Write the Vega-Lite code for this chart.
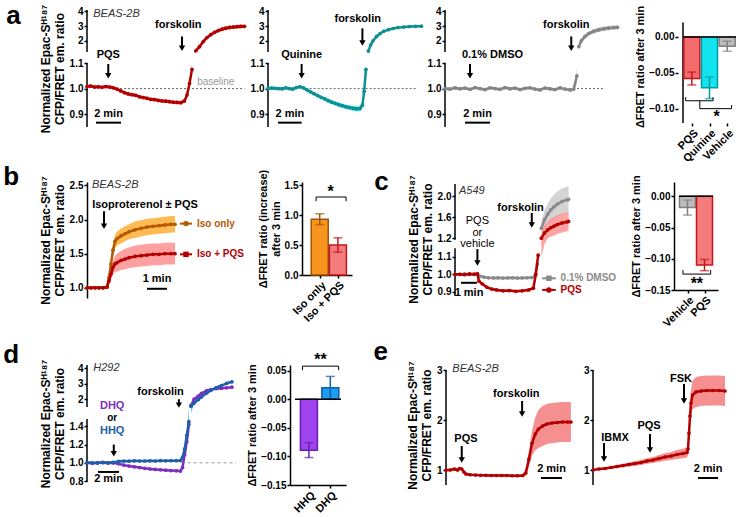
{
"$schema": "https://vega.github.io/schema/vega-lite/v6.json",
"background": "white",
"padding": {"left": 3, "top": 3, "right": 0, "bottom": 0},
"config": {
  "font": "Liberation Sans",
  "view": {"stroke": null},
  "axis": {"labelFont": "Liberation Sans", "labelFontSize": 10, "labelFontWeight": "bold", "labelColor": "#000", "domainColor": "#000", "domainWidth": 1.5, "tickColor": "#000", "tickWidth": 1.5, "tickSize": 3, "labelPadding": 1, "grid": false, "titleFont": "Liberation Sans", "titleFontSize": 12, "titleFontWeight": "bold", "titleColor": "#000", "titlePadding": 3, "labelOverlap": false, "labelFlush": false, "labelBound": false},
  "text": {"font": "Liberation Sans"}
},
"datasets": {
  "a1": [
    {"t":0,"v":1.008,"e":0.007,"s":"l"},{"t":0.3,"v":1.010,"e":0.007,"s":"l"},{"t":0.6,"v":1.006,"e":0.007,"s":"l"},{"t":0.9,"v":1.007,"e":0.007,"s":"l"},{"t":1.2,"v":1.005,"e":0.007,"s":"l"},{"t":1.5,"v":1.008,"e":0.007,"s":"l"},{"t":1.8,"v":1.006,"e":0.007,"s":"l"},{"t":2.1,"v":1.003,"e":0.007,"s":"l"},{"t":2.4,"v":0.998,"e":0.007,"s":"l"},{"t":2.7,"v":0.991,"e":0.007,"s":"l"},{"t":3.0,"v":0.984,"e":0.007,"s":"l"},{"t":3.3,"v":0.979,"e":0.007,"s":"l"},{"t":3.6,"v":0.976,"e":0.007,"s":"l"},{"t":3.9,"v":0.974,"e":0.007,"s":"l"},{"t":4.2,"v":0.968,"e":0.007,"s":"l"},{"t":4.5,"v":0.965,"e":0.007,"s":"l"},{"t":4.8,"v":0.962,"e":0.007,"s":"l"},{"t":5.1,"v":0.958,"e":0.007,"s":"l"},{"t":5.4,"v":0.957,"e":0.007,"s":"l"},{"t":5.7,"v":0.954,"e":0.007,"s":"l"},{"t":6.0,"v":0.952,"e":0.007,"s":"l"},{"t":6.3,"v":0.951,"e":0.007,"s":"l"},{"t":6.6,"v":0.949,"e":0.007,"s":"l"},{"t":6.9,"v":0.947,"e":0.007,"s":"l"},{"t":7.2,"v":0.946,"e":0.007,"s":"l"},{"t":7.5,"v":0.945,"e":0.008,"s":"l"},{"t":7.8,"v":0.952,"e":0.008,"s":"l"},{"t":8.0,"v":0.975,"e":0.01,"s":"l"},{"t":8.2,"v":1.02,"e":0.015,"s":"l"},{"t":8.4,"v":1.075,"e":0.02,"s":"l"},
    {"t":8.7,"v":1.32,"e":0.08,"s":"u"},{"t":9.0,"v":1.6,"e":0.1,"s":"u"},{"t":9.3,"v":1.95,"e":0.12,"s":"u"},{"t":9.6,"v":2.22,"e":0.13,"s":"u"},{"t":9.9,"v":2.42,"e":0.13,"s":"u"},{"t":10.2,"v":2.58,"e":0.13,"s":"u"},{"t":10.5,"v":2.7,"e":0.13,"s":"u"},{"t":10.8,"v":2.79,"e":0.13,"s":"u"},{"t":11.1,"v":2.86,"e":0.13,"s":"u"},{"t":11.4,"v":2.91,"e":0.13,"s":"u"},{"t":11.7,"v":2.94,"e":0.13,"s":"u"},{"t":12.0,"v":2.96,"e":0.13,"s":"u"},{"t":12.3,"v":2.98,"e":0.13,"s":"u"},{"t":12.6,"v":2.99,"e":0.13,"s":"u"}
  ],
  "a2": [
    {"t":0,"v":1.0,"e":0.006,"s":"l"},{"t":0.3,"v":1.002,"e":0.006,"s":"l"},{"t":0.6,"v":1.001,"e":0.006,"s":"l"},{"t":0.9,"v":1.0,"e":0.006,"s":"l"},{"t":1.2,"v":0.999,"e":0.006,"s":"l"},{"t":1.5,"v":1.003,"e":0.006,"s":"l"},{"t":1.8,"v":1.0,"e":0.006,"s":"l"},{"t":2.1,"v":0.998,"e":0.006,"s":"l"},{"t":2.4,"v":1.004,"e":0.006,"s":"l"},{"t":2.7,"v":1.007,"e":0.006,"s":"l"},{"t":3.0,"v":1.003,"e":0.006,"s":"l"},{"t":3.3,"v":0.995,"e":0.007,"s":"l"},{"t":3.6,"v":0.987,"e":0.007,"s":"l"},{"t":3.9,"v":0.98,"e":0.007,"s":"l"},{"t":4.2,"v":0.973,"e":0.007,"s":"l"},{"t":4.5,"v":0.966,"e":0.007,"s":"l"},{"t":4.8,"v":0.96,"e":0.008,"s":"l"},{"t":5.1,"v":0.953,"e":0.008,"s":"l"},{"t":5.4,"v":0.947,"e":0.008,"s":"l"},{"t":5.7,"v":0.942,"e":0.008,"s":"l"},{"t":6.0,"v":0.937,"e":0.009,"s":"l"},{"t":6.3,"v":0.933,"e":0.009,"s":"l"},{"t":6.6,"v":0.929,"e":0.009,"s":"l"},{"t":6.9,"v":0.926,"e":0.009,"s":"l"},{"t":7.2,"v":0.923,"e":0.01,"s":"l"},{"t":7.5,"v":0.921,"e":0.01,"s":"l"},{"t":7.8,"v":0.922,"e":0.01,"s":"l"},{"t":8.0,"v":0.935,"e":0.01,"s":"l"},{"t":8.15,"v":0.99,"e":0.015,"s":"l"},{"t":8.3,"v":1.075,"e":0.02,"s":"l"},
    {"t":8.5,"v":1.3,"e":0.05,"s":"u"},{"t":8.7,"v":1.72,"e":0.06,"s":"u"},{"t":8.9,"v":2.0,"e":0.06,"s":"u"},{"t":9.2,"v":2.3,"e":0.06,"s":"u"},{"t":9.5,"v":2.5,"e":0.06,"s":"u"},{"t":9.8,"v":2.65,"e":0.06,"s":"u"},{"t":10.2,"v":2.76,"e":0.06,"s":"u"},{"t":10.6,"v":2.84,"e":0.06,"s":"u"},{"t":11.0,"v":2.9,"e":0.06,"s":"u"},{"t":11.5,"v":2.94,"e":0.06,"s":"u"},{"t":12.0,"v":2.97,"e":0.06,"s":"u"},{"t":12.5,"v":2.99,"e":0.06,"s":"u"},{"t":13.0,"v":3.0,"e":0.06,"s":"u"}
  ],
  "a3": [
    {"t":0,"v":1.0,"e":0.006,"s":"l"},{"t":0.4,"v":0.998,"e":0.006,"s":"l"},{"t":0.8,"v":1.003,"e":0.006,"s":"l"},{"t":1.2,"v":0.999,"e":0.006,"s":"l"},{"t":1.6,"v":1.002,"e":0.006,"s":"l"},{"t":2.0,"v":0.997,"e":0.006,"s":"l"},{"t":2.4,"v":1.004,"e":0.006,"s":"l"},{"t":2.8,"v":1.0,"e":0.006,"s":"l"},{"t":3.2,"v":0.996,"e":0.006,"s":"l"},{"t":3.6,"v":1.003,"e":0.006,"s":"l"},{"t":4.0,"v":1.0,"e":0.006,"s":"l"},{"t":4.4,"v":0.997,"e":0.006,"s":"l"},{"t":4.8,"v":1.004,"e":0.006,"s":"l"},{"t":5.2,"v":0.999,"e":0.006,"s":"l"},{"t":5.6,"v":1.002,"e":0.006,"s":"l"},{"t":6.0,"v":0.996,"e":0.006,"s":"l"},{"t":6.4,"v":1.001,"e":0.006,"s":"l"},{"t":6.8,"v":1.003,"e":0.006,"s":"l"},{"t":7.2,"v":0.998,"e":0.006,"s":"l"},{"t":7.6,"v":0.995,"e":0.006,"s":"l"},{"t":8.0,"v":1.002,"e":0.006,"s":"l"},{"t":8.4,"v":0.999,"e":0.006,"s":"l"},{"t":8.8,"v":0.996,"e":0.006,"s":"l"},{"t":9.2,"v":1.003,"e":0.006,"s":"l"},{"t":9.6,"v":0.998,"e":0.006,"s":"l"},{"t":10.0,"v":0.995,"e":0.006,"s":"l"},{"t":10.3,"v":0.998,"e":0.006,"s":"l"},{"t":10.55,"v":1.05,"e":0.03,"s":"l"},
    {"t":10.7,"v":1.6,"e":0.15,"s":"u"},{"t":10.9,"v":2.0,"e":0.15,"s":"u"},{"t":11.2,"v":2.3,"e":0.15,"s":"u"},{"t":11.5,"v":2.5,"e":0.15,"s":"u"},{"t":11.9,"v":2.65,"e":0.15,"s":"u"},{"t":12.3,"v":2.75,"e":0.15,"s":"u"},{"t":12.7,"v":2.82,"e":0.15,"s":"u"},{"t":13.1,"v":2.87,"e":0.15,"s":"u"},{"t":13.5,"v":2.9,"e":0.15,"s":"u"},{"t":13.8,"v":2.92,"e":0.15,"s":"u"}
  ],
  "b_iso": [
    {"t":0,"v":1.0,"e":0.005},{"t":0.2,"v":1.0,"e":0.005},{"t":0.4,"v":1.0,"e":0.005},{"t":0.6,"v":1.0,"e":0.005},{"t":0.8,"v":1.0,"e":0.005},{"t":1.0,"v":1.01,"e":0.01},{"t":1.1,"v":1.15,"e":0.04},{"t":1.2,"v":1.35,"e":0.06},{"t":1.3,"v":1.55,"e":0.08},{"t":1.4,"v":1.68,"e":0.1},{"t":1.5,"v":1.72,"e":0.1},{"t":1.7,"v":1.76,"e":0.11},{"t":1.9,"v":1.79,"e":0.11},{"t":2.1,"v":1.82,"e":0.11},{"t":2.4,"v":1.85,"e":0.12},{"t":2.7,"v":1.87,"e":0.12},{"t":3.0,"v":1.89,"e":0.12},{"t":3.3,"v":1.9,"e":0.12},{"t":3.6,"v":1.91,"e":0.12},{"t":3.9,"v":1.92,"e":0.12},{"t":4.2,"v":1.93,"e":0.12},{"t":4.4,"v":1.93,"e":0.12}
  ],
  "b_pqs": [
    {"t":0,"v":1.0,"e":0.005},{"t":0.2,"v":1.0,"e":0.005},{"t":0.4,"v":1.0,"e":0.005},{"t":0.6,"v":1.0,"e":0.005},{"t":0.8,"v":1.0,"e":0.005},{"t":1.0,"v":1.01,"e":0.01},{"t":1.1,"v":1.1,"e":0.04},{"t":1.2,"v":1.2,"e":0.07},{"t":1.3,"v":1.3,"e":0.1},{"t":1.4,"v":1.35,"e":0.12},{"t":1.5,"v":1.37,"e":0.13},{"t":1.7,"v":1.4,"e":0.14},{"t":1.9,"v":1.42,"e":0.15},{"t":2.1,"v":1.44,"e":0.15},{"t":2.4,"v":1.46,"e":0.16},{"t":2.7,"v":1.47,"e":0.16},{"t":3.0,"v":1.48,"e":0.16},{"t":3.3,"v":1.49,"e":0.16},{"t":3.6,"v":1.49,"e":0.16},{"t":3.9,"v":1.5,"e":0.16},{"t":4.2,"v":1.5,"e":0.16},{"t":4.4,"v":1.5,"e":0.16}
  ],
  "c_dmso": [
    {"t":0,"v":1.0,"e":0.006,"s":"l"},{"t":0.3,"v":1.0,"e":0.006,"s":"l"},{"t":0.6,"v":1.002,"e":0.006,"s":"l"},{"t":0.9,"v":0.999,"e":0.006,"s":"l"},{"t":1.2,"v":1.001,"e":0.006,"s":"l"},{"t":1.4,"v":1.0,"e":0.006,"s":"l"},{"t":1.55,"v":0.99,"e":0.006,"s":"l"},{"t":1.8,"v":0.984,"e":0.006,"s":"l"},{"t":2.1,"v":0.98,"e":0.006,"s":"l"},{"t":2.4,"v":0.979,"e":0.006,"s":"l"},{"t":2.7,"v":0.98,"e":0.006,"s":"l"},{"t":3.0,"v":0.978,"e":0.006,"s":"l"},{"t":3.3,"v":0.979,"e":0.006,"s":"l"},{"t":3.6,"v":0.98,"e":0.006,"s":"l"},{"t":3.9,"v":0.978,"e":0.006,"s":"l"},{"t":4.2,"v":0.979,"e":0.006,"s":"l"},{"t":4.5,"v":0.98,"e":0.006,"s":"l"},{"t":4.8,"v":0.981,"e":0.006,"s":"l"},{"t":5.0,"v":0.99,"e":0.008,"s":"l"},{"t":5.15,"v":1.06,"e":0.03,"s":"l"},
    {"t":5.4,"v":1.39,"e":0.15,"s":"u"},{"t":5.6,"v":1.55,"e":0.18,"s":"u"},{"t":5.8,"v":1.66,"e":0.2,"s":"u"},{"t":6.0,"v":1.74,"e":0.22,"s":"u"},{"t":6.2,"v":1.8,"e":0.23,"s":"u"},{"t":6.4,"v":1.85,"e":0.24,"s":"u"},{"t":6.7,"v":1.9,"e":0.25,"s":"u"},{"t":7.0,"v":1.93,"e":0.25,"s":"u"},{"t":7.1,"v":1.94,"e":0.25,"s":"u"}
  ],
  "c_pqs": [
    {"t":0,"v":1.0,"e":0.008,"s":"l"},{"t":0.3,"v":1.0,"e":0.008,"s":"l"},{"t":0.6,"v":0.998,"e":0.008,"s":"l"},{"t":0.9,"v":1.002,"e":0.008,"s":"l"},{"t":1.2,"v":1.0,"e":0.008,"s":"l"},{"t":1.4,"v":1.003,"e":0.008,"s":"l"},{"t":1.5,"v":0.96,"e":0.008,"s":"l"},{"t":1.7,"v":0.945,"e":0.008,"s":"l"},{"t":2.0,"v":0.925,"e":0.008,"s":"l"},{"t":2.3,"v":0.915,"e":0.008,"s":"l"},{"t":2.6,"v":0.91,"e":0.008,"s":"l"},{"t":3.0,"v":0.905,"e":0.008,"s":"l"},{"t":3.4,"v":0.906,"e":0.008,"s":"l"},{"t":3.8,"v":0.902,"e":0.008,"s":"l"},{"t":4.2,"v":0.905,"e":0.008,"s":"l"},{"t":4.6,"v":0.91,"e":0.008,"s":"l"},{"t":4.9,"v":0.92,"e":0.01,"s":"l"},{"t":5.05,"v":1.0,"e":0.02,"s":"l"},{"t":5.2,"v":1.11,"e":0.03,"s":"l"},
    {"t":5.4,"v":1.2,"e":0.1,"s":"u"},{"t":5.6,"v":1.3,"e":0.14,"s":"u"},{"t":5.8,"v":1.36,"e":0.16,"s":"u"},{"t":6.0,"v":1.4,"e":0.17,"s":"u"},{"t":6.2,"v":1.43,"e":0.18,"s":"u"},{"t":6.4,"v":1.46,"e":0.18,"s":"u"},{"t":6.7,"v":1.49,"e":0.18,"s":"u"},{"t":7.0,"v":1.51,"e":0.18,"s":"u"},{"t":7.1,"v":1.52,"e":0.18,"s":"u"}
  ],
  "d_dhq": [
    {"t":0,"v":1.0,"e":0.008,"s":"l"},{"t":0.5,"v":0.995,"e":0.008,"s":"l"},{"t":1.0,"v":1.0,"e":0.008,"s":"l"},{"t":1.5,"v":1.002,"e":0.008,"s":"l"},{"t":2.0,"v":0.998,"e":0.008,"s":"l"},{"t":2.5,"v":1.0,"e":0.008,"s":"l"},{"t":3.0,"v":0.99,"e":0.008,"s":"l"},{"t":3.5,"v":0.975,"e":0.008,"s":"l"},{"t":4.0,"v":0.965,"e":0.008,"s":"l"},{"t":4.5,"v":0.956,"e":0.008,"s":"l"},{"t":5.0,"v":0.948,"e":0.008,"s":"l"},{"t":5.5,"v":0.94,"e":0.008,"s":"l"},{"t":6.0,"v":0.933,"e":0.008,"s":"l"},{"t":6.5,"v":0.928,"e":0.008,"s":"l"},{"t":7.0,"v":0.924,"e":0.008,"s":"l"},{"t":7.5,"v":0.92,"e":0.008,"s":"l"},{"t":8.0,"v":0.915,"e":0.008,"s":"l"},{"t":8.5,"v":0.912,"e":0.008,"s":"l"},{"t":8.9,"v":0.91,"e":0.008,"s":"l"},{"t":9.1,"v":0.95,"e":0.02,"s":"l"},{"t":9.3,"v":1.09,"e":0.03,"s":"l"},{"t":9.5,"v":1.23,"e":0.04,"s":"l"},{"t":9.7,"v":1.42,"e":0.05,"s":"l"},
    {"t":9.9,"v":1.6,"e":0.06,"s":"u"},{"t":10.2,"v":2.0,"e":0.06,"s":"u"},{"t":10.6,"v":2.2,"e":0.06,"s":"u"},{"t":10.9,"v":2.38,"e":0.06,"s":"u"},{"t":11.4,"v":2.55,"e":0.06,"s":"u"},{"t":11.8,"v":2.62,"e":0.06,"s":"u"},{"t":12.3,"v":2.68,"e":0.06,"s":"u"},{"t":12.8,"v":2.7,"e":0.06,"s":"u"},{"t":13.3,"v":2.73,"e":0.06,"s":"u"},{"t":13.8,"v":2.77,"e":0.06,"s":"u"}
  ],
  "d_hhq": [
    {"t":0,"v":1.0,"e":0.008,"s":"l"},{"t":0.5,"v":1.0,"e":0.008,"s":"l"},{"t":1.0,"v":0.998,"e":0.008,"s":"l"},{"t":1.5,"v":1.004,"e":0.008,"s":"l"},{"t":2.0,"v":1.0,"e":0.008,"s":"l"},{"t":2.5,"v":1.005,"e":0.008,"s":"l"},{"t":3.0,"v":1.015,"e":0.008,"s":"l"},{"t":3.5,"v":1.02,"e":0.008,"s":"l"},{"t":4.0,"v":1.018,"e":0.008,"s":"l"},{"t":4.5,"v":1.022,"e":0.008,"s":"l"},{"t":5.0,"v":1.02,"e":0.008,"s":"l"},{"t":5.5,"v":1.02,"e":0.008,"s":"l"},{"t":6.0,"v":1.022,"e":0.008,"s":"l"},{"t":6.5,"v":1.02,"e":0.008,"s":"l"},{"t":7.0,"v":1.024,"e":0.008,"s":"l"},{"t":7.5,"v":1.022,"e":0.008,"s":"l"},{"t":8.0,"v":1.024,"e":0.008,"s":"l"},{"t":8.5,"v":1.023,"e":0.008,"s":"l"},{"t":8.9,"v":1.025,"e":0.008,"s":"l"},{"t":9.1,"v":1.06,"e":0.02,"s":"l"},{"t":9.3,"v":1.15,"e":0.03,"s":"l"},{"t":9.5,"v":1.3,"e":0.04,"s":"l"},{"t":9.7,"v":1.45,"e":0.05,"s":"l"},
    {"t":9.9,"v":1.55,"e":0.06,"s":"u"},{"t":10.2,"v":1.75,"e":0.06,"s":"u"},{"t":10.6,"v":1.98,"e":0.06,"s":"u"},{"t":10.9,"v":2.15,"e":0.06,"s":"u"},{"t":11.4,"v":2.4,"e":0.06,"s":"u"},{"t":11.8,"v":2.57,"e":0.06,"s":"u"},{"t":12.3,"v":2.75,"e":0.06,"s":"u"},{"t":12.8,"v":2.88,"e":0.06,"s":"u"},{"t":13.3,"v":3.02,"e":0.06,"s":"u"},{"t":13.8,"v":3.12,"e":0.06,"s":"u"}
  ],
  "e1": [
    {"t":0,"v":1.0,"e":0.02},{"t":0.4,"v":1.0,"e":0.02},{"t":0.8,"v":1.02,"e":0.02},{"t":1.1,"v":1.0,"e":0.02},{"t":1.3,"v":1.03,"e":0.02},{"t":1.5,"v":1.02,"e":0.02},{"t":1.7,"v":0.96,"e":0.02},{"t":1.9,"v":0.92,"e":0.02},{"t":2.3,"v":0.905,"e":0.02},{"t":2.8,"v":0.9,"e":0.02},{"t":3.3,"v":0.895,"e":0.02},{"t":3.8,"v":0.895,"e":0.02},{"t":4.3,"v":0.89,"e":0.02},{"t":4.8,"v":0.89,"e":0.02},{"t":5.3,"v":0.89,"e":0.02},{"t":5.8,"v":0.89,"e":0.02},{"t":6.3,"v":0.885,"e":0.02},{"t":6.8,"v":0.885,"e":0.02},{"t":7.3,"v":0.89,"e":0.03},{"t":7.6,"v":0.94,"e":0.06},{"t":7.9,"v":1.22,"e":0.15},{"t":8.2,"v":1.54,"e":0.25},{"t":8.5,"v":1.72,"e":0.33},{"t":8.8,"v":1.82,"e":0.38},{"t":9.2,"v":1.88,"e":0.4},{"t":9.6,"v":1.92,"e":0.4},{"t":10.1,"v":1.94,"e":0.4},{"t":10.6,"v":1.95,"e":0.4},{"t":11.1,"v":1.96,"e":0.4},{"t":11.6,"v":1.96,"e":0.4},{"t":11.9,"v":1.96,"e":0.4}
  ],
  "e2": [
    {"t":0,"v":1.0,"e":0.01},{"t":0.6,"v":1.02,"e":0.015},{"t":1.2,"v":1.03,"e":0.02},{"t":1.8,"v":1.05,"e":0.025},{"t":2.4,"v":1.07,"e":0.03},{"t":3.0,"v":1.09,"e":0.035},{"t":3.6,"v":1.11,"e":0.04},{"t":4.2,"v":1.13,"e":0.045},{"t":4.8,"v":1.15,"e":0.05},{"t":5.4,"v":1.18,"e":0.055},{"t":6.0,"v":1.2,"e":0.06},{"t":6.6,"v":1.23,"e":0.07},{"t":7.2,"v":1.26,"e":0.075},{"t":7.8,"v":1.28,"e":0.08},{"t":8.4,"v":1.31,"e":0.09},{"t":9.0,"v":1.33,"e":0.095},{"t":9.4,"v":1.35,"e":0.1},{"t":9.5,"v":1.42,"e":0.12},{"t":9.6,"v":1.74,"e":0.18},{"t":9.7,"v":2.08,"e":0.24},{"t":9.8,"v":2.34,"e":0.27},{"t":9.95,"v":2.5,"e":0.29},{"t":10.3,"v":2.56,"e":0.3},{"t":10.8,"v":2.58,"e":0.3},{"t":11.4,"v":2.59,"e":0.3},{"t":12.0,"v":2.59,"e":0.3},{"t":12.6,"v":2.59,"e":0.3},{"t":13.2,"v":2.58,"e":0.3}
  ]
},
"spacing": 0,
"resolve": {"scale": {"fill": "independent", "stroke": "independent", "color": "independent"}},
"vconcat": [
{
  "title": {"text": "a", "orient": "left", "anchor": "end", "angle": 0, "align": "right", "baseline": "top", "fontSize": 26, "fontWeight": "bold", "font": "Liberation Sans", "color": "black", "offset": 4, "dy": -1},
  "spacing": 0,
  "resolve": {"scale": {"fill": "independent", "stroke": "independent", "color": "independent"}},
  "hconcat": [
  {
    "width": 158, "height": 117,
    "encoding": {
      "x": {"field": "t", "type": "quantitative", "scale": {"domain": [0, 12.64], "nice": false, "zero": false}, "axis": null},
      "y": {"field": "v", "type": "quantitative", "scale": {"domain": [0.85, 1.1, 1.24, 4.1], "range": [117, 53, 42, 0], "nice": false, "zero": false}, "axis": {"values": [0.9, 1, 1.1, 2, 3, 4], "labelExpr": "datum.value >= 2 ? format(datum.value, 'd') : format(datum.value, '.1f')", "domain": false, "title": ["Normalized Epac-Sᴴ¹⁸⁷", "CFP/FRET em. ratio"]}}
    },
    "layer": [
      {"data": {"values": [{"t": 0, "v": 0.85, "v2": 1.1}, {"t": 0, "v": 1.24, "v2": 4.1}]}, "mark": {"type": "rule", "color": "black", "strokeWidth": 1.5}, "encoding": {"y2": {"field": "v2"}}},
      {"data": {"values": [{"t": 2, "t2": 12.6, "v": 1}]}, "mark": {"type": "rule", "color": "#666", "strokeDash": [2, 2], "strokeWidth": 1}, "encoding": {"x2": {"field": "t2"}}},
      {"data": {"name": "a1"}, "mark": {"type": "errorband", "color": "#f26b6b", "opacity": 0.7}, "encoding": {"yError": {"field": "e"}, "detail": {"field": "s"}}},
      {"data": {"name": "a1"}, "mark": {"type": "line", "color": "#b00000", "strokeWidth": 2.5, "point": {"filled": true, "size": 14, "color": "#b00000"}}, "encoding": {"detail": {"field": "s"}}},
      {"data": {"values": [{"t": 0.72, "t2": 2.72, "v": 0.867}]}, "mark": {"type": "rule", "color": "black", "strokeWidth": 2}, "encoding": {"x2": {"field": "t2"}}},
      {"data": {"values": [{"t": 1.7, "v": 1.05, "v2": 1.096}, {"t": 7.6, "v": 1.5, "v2": 2.3}]}, "layer": [
        {"mark": {"type": "rule", "strokeWidth": 2, "color": "black"}, "encoding": {"y2": {"field": "v2"}}},
        {"mark": {"type": "point", "shape": "triangle-down", "filled": true, "size": 40, "color": "black", "opacity": 1}}
      ]},
      {"data": {"values": [{"t": 1.7, "v": 1.2, "label": "PQS"}, {"t": 7.3, "v": 3.1, "label": "forskolin"}, {"t": 1.72, "v": 0.902, "label": "2 min"}]}, "mark": {"type": "text", "fontWeight": "bold", "fontSize": 11, "color": "black", "baseline": "middle"}, "encoding": {"text": {"field": "label"}}},
      {"data": {"values": [{"t": 0.5, "v": 3.85, "label": "BEAS-2B"}]}, "mark": {"type": "text", "fontStyle": "italic", "fontSize": 11, "color": "#333", "align": "left", "baseline": "middle"}, "encoding": {"text": {"field": "label"}}},
      {"data": {"values": [{"t": 10.3, "v": 1.025, "label": "baseline"}]}, "mark": {"type": "text", "fontSize": 10, "color": "#999", "baseline": "middle"}, "encoding": {"text": {"field": "label"}}}
    ]
  },
  {
    "width": 154, "height": 117,
    "encoding": {
      "x": {"field": "t", "type": "quantitative", "scale": {"domain": [0, 13.05], "nice": false, "zero": false}, "axis": null},
      "y": {"field": "v", "type": "quantitative", "scale": {"domain": [0.85, 1.1, 1.24, 4.1], "range": [117, 53, 42, 0], "nice": false, "zero": false}, "axis": {"values": [0.9, 1, 1.1, 2, 3, 4], "labelExpr": "datum.value >= 2 ? format(datum.value, 'd') : format(datum.value, '.1f')", "domain": false, "title": null}}
    },
    "layer": [
      {"data": {"values": [{"t": 0, "v": 0.85, "v2": 1.1}, {"t": 0, "v": 1.24, "v2": 4.1}]}, "mark": {"type": "rule", "color": "black", "strokeWidth": 1.5}, "encoding": {"y2": {"field": "v2"}}},
      {"data": {"values": [{"t": 2.85, "t2": 12.6, "v": 1}]}, "mark": {"type": "rule", "color": "#666", "strokeDash": [2, 2], "strokeWidth": 1}, "encoding": {"x2": {"field": "t2"}}},
      {"data": {"name": "a2"}, "mark": {"type": "errorband", "color": "#1ee6ee", "opacity": 0.8}, "encoding": {"yError": {"field": "e"}, "detail": {"field": "s"}}},
      {"data": {"name": "a2"}, "mark": {"type": "line", "color": "#0f8f8f", "strokeWidth": 2.5, "point": {"filled": true, "size": 14, "color": "#0f8f8f"}}, "encoding": {"detail": {"field": "s"}}},
      {"data": {"values": [{"t": 0.85, "t2": 2.85, "v": 0.867}]}, "mark": {"type": "rule", "color": "black", "strokeWidth": 2}, "encoding": {"x2": {"field": "t2"}}},
      {"data": {"values": [{"t": 2.85, "v": 1.05, "v2": 1.096}, {"t": 8.0, "v": 1.85, "v2": 2.85}]}, "layer": [
        {"mark": {"type": "rule", "strokeWidth": 2, "color": "black"}, "encoding": {"y2": {"field": "v2"}}},
        {"mark": {"type": "point", "shape": "triangle-down", "filled": true, "size": 40, "color": "black", "opacity": 1}}
      ]},
      {"data": {"values": [{"t": 2.85, "v": 1.2, "label": "Quinine"}, {"t": 7.6, "v": 3.52, "label": "forskolin"}, {"t": 1.85, "v": 0.902, "label": "2 min"}]}, "mark": {"type": "text", "fontWeight": "bold", "fontSize": 11, "color": "black", "baseline": "middle"}, "encoding": {"text": {"field": "label"}}}
    ]
  },
  {
    "width": 189, "height": 117,
    "encoding": {
      "x": {"field": "t", "type": "quantitative", "scale": {"domain": [0, 15.12], "nice": false, "zero": false}, "axis": null},
      "y": {"field": "v", "type": "quantitative", "scale": {"domain": [0.85, 1.1, 1.24, 4.1], "range": [117, 53, 42, 0], "nice": false, "zero": false}, "axis": {"values": [0.9, 1, 1.1, 2, 3, 4], "labelExpr": "datum.value >= 2 ? format(datum.value, 'd') : format(datum.value, '.1f')", "domain": false, "title": null}}
    },
    "layer": [
      {"data": {"values": [{"t": 0, "v": 0.85, "v2": 1.1}, {"t": 0, "v": 1.24, "v2": 4.1}]}, "mark": {"type": "rule", "color": "black", "strokeWidth": 1.5}, "encoding": {"y2": {"field": "v2"}}},
      {"data": {"values": [{"t": 0, "t2": 12.7, "v": 1}]}, "mark": {"type": "rule", "color": "#666", "strokeDash": [2, 2], "strokeWidth": 1}, "encoding": {"x2": {"field": "t2"}}},
      {"data": {"name": "a3"}, "mark": {"type": "errorband", "color": "#c8c8c8", "opacity": 0.9}, "encoding": {"yError": {"field": "e"}, "detail": {"field": "s"}}},
      {"data": {"name": "a3"}, "mark": {"type": "line", "color": "#858585", "strokeWidth": 2.5, "point": {"filled": true, "size": 14, "color": "#858585"}}, "encoding": {"detail": {"field": "s"}}},
      {"data": {"values": [{"t": 1.6, "t2": 3.6, "v": 0.867}]}, "mark": {"type": "rule", "color": "black", "strokeWidth": 2}, "encoding": {"x2": {"field": "t2"}}},
      {"data": {"values": [{"t": 2.0, "v": 1.05, "v2": 1.096}, {"t": 10.1, "v": 1.5, "v2": 2.3}]}, "layer": [
        {"mark": {"type": "rule", "strokeWidth": 2, "color": "black"}, "encoding": {"y2": {"field": "v2"}}},
        {"mark": {"type": "point", "shape": "triangle-down", "filled": true, "size": 40, "color": "black", "opacity": 1}}
      ]},
      {"data": {"values": [{"t": 3.8, "v": 1.2, "label": "0.1% DMSO"}, {"t": 9.7, "v": 3.08, "label": "forskolin"}, {"t": 2.6, "v": 0.902, "label": "2 min"}]}, "mark": {"type": "text", "fontWeight": "bold", "fontSize": 11, "color": "black", "baseline": "middle"}, "encoding": {"text": {"field": "label"}}}
    ]
  },
  {
    "width": 63, "height": 113,
    "encoding": {
      "x": {"field": "i", "type": "quantitative", "scale": {"domain": [0.5, 3.5], "nice": false, "zero": false}, "axis": {"values": [1, 2, 3], "labelExpr": "['', 'PQS', 'Quinine', 'Vehicle'][datum.value]", "labelAngle": -45, "title": null, "domain": false, "labelFontSize": 11}},
      "y": {"field": "v", "type": "quantitative", "scale": {"domain": [-0.12, 0.0375], "nice": false, "zero": false}, "axis": {"values": [0, -0.05, -0.1], "format": ".2f", "domain": false, "title": "ΔFRET ratio after 3 min", "titleFontSize": 11}}
    },
    "layer": [
      {"data": {"values": [{"i": 0.5, "v": -0.12, "v2": 0.02}]}, "mark": {"type": "rule", "color": "black", "strokeWidth": 1.5}, "encoding": {"y2": {"field": "v2"}}},
      {"data": {"values": [{"i": 1, "v": -0.058, "e": 0.009, "g": "PQS"}, {"i": 2, "v": -0.071, "e": 0.015, "g": "Quinine"}, {"i": 3, "v": -0.013, "e": 0.007, "g": "Vehicle"}]}, "layer": [
        {"mark": {"type": "bar", "size": 16, "strokeWidth": 1.5}, "encoding": {
          "fill": {"field": "g", "type": "nominal", "scale": {"domain": ["PQS", "Quinine", "Vehicle"], "range": ["#f46b6b", "#12e3ee", "#bdbdbd"]}, "legend": null},
          "stroke": {"field": "g", "type": "nominal", "scale": {"domain": ["PQS", "Quinine", "Vehicle"], "range": ["#c4161c", "#009aa3", "#7f7f7f"]}, "legend": null}}},
        {"mark": {"type": "errorbar", "ticks": {"size": 9}, "thickness": 1.5}, "encoding": {"yError": {"field": "e"}, "color": {"field": "g", "type": "nominal", "scale": {"domain": ["PQS", "Quinine", "Vehicle"], "range": ["#c4161c", "#009aa3", "#7f7f7f"]}, "legend": null}}}
      ]},
      {"data": {"values": [{"i": 0.5, "i2": 3.5, "v": 0}]}, "mark": {"type": "rule", "color": "black", "strokeWidth": 1.5}, "encoding": {"x2": {"field": "i2"}}},
      {"data": {"values": [{"i": 0.65, "i2": 2.2, "v": -0.089}, {"i": 1.45, "i2": 3.25, "v": -0.1}]}, "mark": {"type": "rule", "color": "black", "strokeWidth": 1}, "encoding": {"x2": {"field": "i2"}}},
      {"data": {"values": [{"i": 0.65, "v": -0.089, "v2": -0.084}, {"i": 2.2, "v": -0.089, "v2": -0.084}, {"i": 1.45, "v": -0.1, "v2": -0.089}, {"i": 3.25, "v": -0.1, "v2": -0.095}]}, "mark": {"type": "rule", "color": "black", "strokeWidth": 1}, "encoding": {"y2": {"field": "v2"}}},
      {"data": {"values": [{"i": 2.4, "v": -0.112, "label": "*"}]}, "mark": {"type": "text", "fontSize": 16, "fontWeight": "bold", "baseline": "middle"}, "encoding": {"text": {"field": "label"}}}
    ]
  }
  ]
},
{
  "spacing": 9,
  "resolve": {"scale": {"fill": "independent", "stroke": "independent", "color": "independent"}},
  "vconcat": [
  {
    "spacing": 22,
    "resolve": {"scale": {"fill": "independent", "stroke": "independent", "color": "independent"}},
    "hconcat": [
    {
      "title": {"text": "b", "orient": "left", "anchor": "end", "angle": 0, "align": "right", "baseline": "top", "fontSize": 26, "fontWeight": "bold", "font": "Liberation Sans", "color": "black", "offset": 4, "dy": -5},
      "spacing": 0,
      "resolve": {"scale": {"fill": "independent", "stroke": "independent", "color": "independent"}},
      "hconcat": [
      {
        "width": 170, "height": 116,
        "encoding": {
          "x": {"field": "t", "type": "quantitative", "scale": {"domain": [0, 8.5], "nice": false, "zero": false}, "axis": null},
          "y": {"field": "v", "type": "quantitative", "scale": {"domain": [0.85, 2.55], "nice": false, "zero": false}, "axis": {"values": [1, 1.5, 2, 2.5], "format": ".1f", "title": ["Normalized Epac-Sᴴ¹⁸⁷", "CFP/FRET em. ratio"]}}
        },
        "layer": [
          {"data": {"name": "b_iso"}, "mark": {"type": "errorband", "color": "#ffa31a", "opacity": 0.75}, "encoding": {"yError": {"field": "e"}}},
          {"data": {"name": "b_pqs"}, "mark": {"type": "errorband", "color": "#ff8080", "opacity": 0.75}, "encoding": {"yError": {"field": "e"}}},
          {"data": {"name": "b_iso"}, "mark": {"type": "line", "color": "#b35a00", "strokeWidth": 2.5, "point": {"filled": true, "size": 14, "color": "#b35a00"}}},
          {"data": {"name": "b_pqs"}, "mark": {"type": "line", "color": "#b30000", "strokeWidth": 2.5, "point": {"filled": true, "size": 14, "color": "#b30000"}}},
          {"data": {"values": [{"t": 3.0, "t2": 4.0, "v": 0.985}]}, "mark": {"type": "rule", "color": "black", "strokeWidth": 2}, "encoding": {"x2": {"field": "t2"}}},
          {"data": {"values": [{"t": 0.85, "v": 1.9, "v2": 2.12}]}, "layer": [
            {"mark": {"type": "rule", "strokeWidth": 2, "color": "black"}, "encoding": {"y2": {"field": "v2"}}},
            {"mark": {"type": "point", "shape": "triangle-down", "filled": true, "size": 40, "color": "black", "opacity": 1}}
          ]},
          {"data": {"values": [{"t": 2.9, "v": 2.22, "label": "Isoproterenol ± PQS"}, {"t": 3.5, "v": 1.13, "label": "1 min"}]}, "mark": {"type": "text", "fontWeight": "bold", "fontSize": 11, "color": "black", "baseline": "middle"}, "encoding": {"text": {"field": "label"}}},
          {"data": {"values": [{"t": 0.25, "v": 2.5, "label": "BEAS-2B"}]}, "mark": {"type": "text", "fontStyle": "italic", "fontSize": 11, "color": "#333", "align": "left", "baseline": "middle"}, "encoding": {"text": {"field": "label"}}},
          {"data": {"values": [{"t": 4.65, "t2": 5.25, "v": 1.94}]}, "mark": {"type": "rule", "color": "#b35a00", "strokeWidth": 2}, "encoding": {"x2": {"field": "t2"}}},
          {"data": {"values": [{"t": 4.65, "t2": 5.25, "v": 1.49}]}, "mark": {"type": "rule", "color": "#b30000", "strokeWidth": 2}, "encoding": {"x2": {"field": "t2"}}},
          {"data": {"values": [{"t": 4.95, "v": 1.94}]}, "mark": {"type": "point", "filled": true, "size": 30, "color": "#b35a00", "opacity": 1}},
          {"data": {"values": [{"t": 4.95, "v": 1.49}]}, "mark": {"type": "square", "size": 30, "color": "#b30000", "opacity": 1}},
          {"data": {"values": [{"t": 5.5, "v": 1.94, "label": "Iso only"}]}, "mark": {"type": "text", "fontWeight": "bold", "fontSize": 10, "color": "#b35a00", "align": "left", "baseline": "middle"}, "encoding": {"text": {"field": "label"}}},
          {"data": {"values": [{"t": 5.5, "v": 1.49, "label": "Iso + PQS"}]}, "mark": {"type": "text", "fontWeight": "bold", "fontSize": 10, "color": "#b30000", "align": "left", "baseline": "middle"}, "encoding": {"text": {"field": "label"}}}
        ]
      },
      {
        "width": 50, "height": 93,
        "encoding": {
          "x": {"field": "i", "type": "quantitative", "scale": {"domain": [0.3, 2.5], "nice": false, "zero": false}, "axis": {"values": [1, 2], "labelExpr": "['', 'Iso only', 'Iso + PQS'][datum.value]", "labelAngle": -45, "title": null, "labelFontSize": 11}},
          "y": {"field": "v", "type": "quantitative", "scale": {"domain": [0, 1.55], "nice": false, "zero": false}, "axis": {"values": [0, 0.5, 1, 1.5], "format": ".1f", "title": ["ΔFRET ratio (increase)", "after 3 min"], "titleFontSize": 11}}
        },
        "layer": [
          {"data": {"values": [{"i": 1, "v": 0.93, "e": 0.09, "g": "Iso only"}, {"i": 2, "v": 0.5, "e": 0.12, "g": "Iso + PQS"}]}, "layer": [
            {"mark": {"type": "bar", "size": 17, "strokeWidth": 1.5}, "encoding": {
              "fill": {"field": "g", "type": "nominal", "scale": {"domain": ["Iso only", "Iso + PQS"], "range": ["#f7941d", "#f47c7c"]}, "legend": null},
              "stroke": {"field": "g", "type": "nominal", "scale": {"domain": ["Iso only", "Iso + PQS"], "range": ["#a0520a", "#c4161c"]}, "legend": null}}},
            {"mark": {"type": "errorbar", "ticks": {"size": 9}, "thickness": 1.5}, "encoding": {"yError": {"field": "e"}, "color": {"field": "g", "type": "nominal", "scale": {"domain": ["Iso only", "Iso + PQS"], "range": ["#a0520a", "#c4161c"]}, "legend": null}}}
          ]},
          {"data": {"values": [{"i": 0.8, "i2": 2.45, "v": 1.3}]}, "mark": {"type": "rule", "color": "black", "strokeWidth": 1}, "encoding": {"x2": {"field": "i2"}}},
          {"data": {"values": [{"i": 0.8, "v": 1.23, "v2": 1.3}, {"i": 2.45, "v": 1.23, "v2": 1.3}]}, "mark": {"type": "rule", "color": "black", "strokeWidth": 1}, "encoding": {"y2": {"field": "v2"}}},
          {"data": {"values": [{"i": 1.6, "v": 1.38, "label": "*"}]}, "mark": {"type": "text", "fontSize": 16, "fontWeight": "bold", "baseline": "middle"}, "encoding": {"text": {"field": "label"}}}
        ]
      }
      ]
    },
    {
      "title": {"text": "c", "orient": "left", "anchor": "end", "angle": 0, "align": "right", "baseline": "top", "fontSize": 26, "fontWeight": "bold", "font": "Liberation Sans", "color": "black", "offset": 4, "dy": -6},
      "spacing": 0,
      "resolve": {"scale": {"fill": "independent", "stroke": "independent", "color": "independent"}},
      "hconcat": [
      {
        "width": 175, "height": 114,
        "encoding": {
          "x": {"field": "t", "type": "quantitative", "scale": {"domain": [0, 10.94], "nice": false, "zero": false}, "axis": null},
          "y": {"field": "v", "type": "quantitative", "scale": {"domain": [0.875, 1.15, 1.17, 2.27], "range": [114, 66.25, 57.75, 0], "nice": false, "zero": false}, "axis": {"values": [0.9, 1, 1.1, 1.2, 1.6, 2.0], "format": ".1f", "domain": false, "title": ["Normalized Epac-Sᴴ¹⁸⁷", "CFP/FRET em. ratio"]}}
        },
        "layer": [
          {"data": {"values": [{"t": 0, "v": 0.875, "v2": 1.15}, {"t": 0, "v": 1.17, "v2": 2.23}]}, "mark": {"type": "rule", "color": "black", "strokeWidth": 1.5}, "encoding": {"y2": {"field": "v2"}}},
          {"data": {"name": "c_dmso"}, "mark": {"type": "errorband", "color": "#cfcfcf", "opacity": 0.9}, "encoding": {"yError": {"field": "e"}, "detail": {"field": "s"}}},
          {"data": {"name": "c_pqs"}, "mark": {"type": "errorband", "color": "#ff8c8c", "opacity": 0.8}, "encoding": {"yError": {"field": "e"}, "detail": {"field": "s"}}},
          {"data": {"name": "c_dmso"}, "mark": {"type": "line", "color": "#8a8a8a", "strokeWidth": 2.5, "point": {"filled": true, "size": 14, "color": "#8a8a8a"}}, "encoding": {"detail": {"field": "s"}}},
          {"data": {"name": "c_pqs"}, "mark": {"type": "line", "color": "#b30000", "strokeWidth": 2.5, "point": {"filled": true, "size": 14, "color": "#b30000"}}, "encoding": {"detail": {"field": "s"}}},
          {"data": {"values": [{"t": 0.375, "t2": 1.375, "v": 0.951}]}, "mark": {"type": "rule", "color": "black", "strokeWidth": 2}, "encoding": {"x2": {"field": "t2"}}},
          {"data": {"values": [{"t": 1.4, "v": 1.065, "v2": 1.145}, {"t": 4.8, "v": 1.45, "v2": 1.68}]}, "layer": [
            {"mark": {"type": "rule", "strokeWidth": 2, "color": "black"}, "encoding": {"y2": {"field": "v2"}}},
            {"mark": {"type": "point", "shape": "triangle-down", "filled": true, "size": 40, "color": "black", "opacity": 1}}
          ]},
          {"data": {"values": [{"t": 4.1, "v": 1.775, "label": "forskolin"}, {"t": 0.875, "v": 0.894, "label": "1 min"}]}, "mark": {"type": "text", "fontWeight": "bold", "fontSize": 11, "color": "black", "baseline": "middle"}, "encoding": {"text": {"field": "label"}}},
          {"data": {"values": [{"t": 1.4, "v": 1.527, "label": "PQS"}, {"t": 1.4, "v": 1.3, "label": "or"}, {"t": 1.4, "v": 1.16, "label": "vehicle"}]}, "mark": {"type": "text", "fontSize": 11, "color": "black", "baseline": "middle"}, "encoding": {"text": {"field": "label"}}},
          {"data": {"values": [{"t": 0.25, "v": 2.1, "label": "A549"}]}, "mark": {"type": "text", "fontStyle": "italic", "fontSize": 11, "color": "#333", "align": "left", "baseline": "middle"}, "encoding": {"text": {"field": "label"}}},
          {"data": {"values": [{"t": 5.45, "t2": 6.3, "v": 0.977}]}, "mark": {"type": "rule", "color": "#8a8a8a", "strokeWidth": 2}, "encoding": {"x2": {"field": "t2"}}},
          {"data": {"values": [{"t": 5.45, "t2": 6.3, "v": 0.91}]}, "mark": {"type": "rule", "color": "#b30000", "strokeWidth": 2}, "encoding": {"x2": {"field": "t2"}}},
          {"data": {"values": [{"t": 5.87, "v": 0.977}]}, "mark": {"type": "square", "size": 30, "color": "#8a8a8a", "opacity": 1}},
          {"data": {"values": [{"t": 5.87, "v": 0.91}]}, "mark": {"type": "point", "filled": true, "size": 30, "color": "#b30000", "opacity": 1}},
          {"data": {"values": [{"t": 6.6, "v": 0.977, "label": "0.1% DMSO"}]}, "mark": {"type": "text", "fontWeight": "bold", "fontSize": 10, "color": "#8a8a8a", "align": "left", "baseline": "middle"}, "encoding": {"text": {"field": "label"}}},
          {"data": {"values": [{"t": 6.6, "v": 0.91, "label": "PQS"}]}, "mark": {"type": "text", "fontWeight": "bold", "fontSize": 10, "color": "#b30000", "align": "left", "baseline": "middle"}, "encoding": {"text": {"field": "label"}}}
        ]
      },
      {
        "width": 44, "height": 108,
        "encoding": {
          "x": {"field": "i", "type": "quantitative", "scale": {"domain": [0.5, 2.5], "nice": false, "zero": false}, "axis": {"values": [1, 2], "labelExpr": "['', 'Vehicle', 'PQS'][datum.value]", "labelAngle": -45, "title": null, "labelFontSize": 11}},
          "y": {"field": "v", "type": "quantitative", "scale": {"domain": [-0.15, 0.023], "nice": false, "zero": false}, "axis": {"values": [0, -0.05, -0.1, -0.15], "format": ".2f", "title": "ΔFRET ratio after 3 min", "titleFontSize": 11}}
        },
        "layer": [
          {"data": {"values": [{"i": 1, "v": -0.018, "e": 0.012, "g": "Vehicle"}, {"i": 2, "v": -0.11, "e": 0.009, "g": "PQS"}]}, "layer": [
            {"mark": {"type": "bar", "size": 16, "strokeWidth": 1.5}, "encoding": {
              "fill": {"field": "g", "type": "nominal", "scale": {"domain": ["Vehicle", "PQS"], "range": ["#bdbdbd", "#f47c7c"]}, "legend": null},
              "stroke": {"field": "g", "type": "nominal", "scale": {"domain": ["Vehicle", "PQS"], "range": ["#7f7f7f", "#c4161c"]}, "legend": null}}},
            {"mark": {"type": "errorbar", "ticks": {"size": 9}, "thickness": 1.5}, "encoding": {"yError": {"field": "e"}, "color": {"field": "g", "type": "nominal", "scale": {"domain": ["Vehicle", "PQS"], "range": ["#7f7f7f", "#c4161c"]}, "legend": null}}}
          ]},
          {"data": {"values": [{"i": 0.5, "i2": 2.5, "v": 0}]}, "mark": {"type": "rule", "color": "black", "strokeWidth": 1.5}, "encoding": {"x2": {"field": "i2"}}},
          {"data": {"values": [{"i": 0.73, "i2": 2.36, "v": -0.1245}]}, "mark": {"type": "rule", "color": "black", "strokeWidth": 1}, "encoding": {"x2": {"field": "i2"}}},
          {"data": {"values": [{"i": 0.73, "v": -0.1245, "v2": -0.118}, {"i": 2.36, "v": -0.1245, "v2": -0.118}]}, "mark": {"type": "rule", "color": "black", "strokeWidth": 1}, "encoding": {"y2": {"field": "v2"}}},
          {"data": {"values": [{"i": 1.55, "v": -0.14, "label": "**"}]}, "mark": {"type": "text", "fontSize": 16, "fontWeight": "bold", "baseline": "middle"}, "encoding": {"text": {"field": "label"}}}
        ]
      }
      ]
    }
    ]
  },
  {
    "spacing": 27,
    "resolve": {"scale": {"fill": "independent", "stroke": "independent", "color": "independent"}},
    "hconcat": [
    {
      "title": {"text": "d", "orient": "left", "anchor": "end", "angle": 0, "align": "right", "baseline": "top", "fontSize": 26, "fontWeight": "bold", "font": "Liberation Sans", "color": "black", "offset": 4, "dy": -10},
      "spacing": 0,
      "resolve": {"scale": {"fill": "independent", "stroke": "independent", "color": "independent"}},
      "hconcat": [
      {
        "width": 159, "height": 117,
        "encoding": {
          "x": {"field": "t", "type": "quantitative", "scale": {"domain": [0, 15.14], "nice": false, "zero": false}, "axis": null},
          "y": {"field": "v", "type": "quantitative", "scale": {"domain": [0.79, 1.48, 1.5, 4.2], "range": [117, 54, 42, 0], "nice": false, "zero": false}, "axis": {"values": [0.8, 1, 1.2, 1.4, 2, 3, 4], "labelExpr": "datum.value >= 2 ? format(datum.value, 'd') : format(datum.value, '.1f')", "domain": false, "title": ["Normalized Epac-Sᴴ¹⁸⁷", "CFP/FRET em. ratio"]}}
        },
        "layer": [
          {"data": {"values": [{"t": 0, "v": 0.79, "v2": 1.48}, {"t": 0, "v": 1.5, "v2": 4.2}]}, "mark": {"type": "rule", "color": "black", "strokeWidth": 1.5}, "encoding": {"y2": {"field": "v2"}}},
          {"data": {"values": [{"t": 9.0, "t2": 14.2, "v": 1}]}, "mark": {"type": "rule", "color": "#999", "strokeDash": [3, 3], "strokeWidth": 1}, "encoding": {"x2": {"field": "t2"}}},
          {"data": {"name": "d_dhq"}, "mark": {"type": "errorband", "color": "#c08ae8", "opacity": 0.8}, "encoding": {"yError": {"field": "e"}, "detail": {"field": "s"}}},
          {"data": {"name": "d_hhq"}, "mark": {"type": "errorband", "color": "#3bb9f0", "opacity": 0.8}, "encoding": {"yError": {"field": "e"}, "detail": {"field": "s"}}},
          {"data": {"name": "d_dhq"}, "mark": {"type": "line", "color": "#7d2fc0", "strokeWidth": 2.5, "point": {"filled": true, "size": 14, "color": "#7d2fc0"}}, "encoding": {"detail": {"field": "s"}}},
          {"data": {"name": "d_hhq"}, "mark": {"type": "line", "color": "#1f5ea8", "strokeWidth": 2.5, "point": {"filled": true, "size": 14, "color": "#1f5ea8"}}, "encoding": {"detail": {"field": "s"}}},
          {"data": {"values": [{"t": 1.05, "t2": 3.05, "v": 0.9}]}, "mark": {"type": "rule", "color": "black", "strokeWidth": 2}, "encoding": {"x2": {"field": "t2"}}},
          {"data": {"values": [{"t": 2.55, "v": 1.1, "v2": 1.2}, {"t": 8.75, "v": 1.62, "v2": 2.0}]}, "layer": [
            {"mark": {"type": "rule", "strokeWidth": 2, "color": "black"}, "encoding": {"y2": {"field": "v2"}}},
            {"mark": {"type": "point", "shape": "triangle-down", "filled": true, "size": 40, "color": "black", "opacity": 1}}
          ]},
          {"data": {"values": [{"t": 7.0, "v": 2.45, "label": "forskolin"}, {"t": 2.05, "v": 0.826, "label": "2 min"}]}, "mark": {"type": "text", "fontWeight": "bold", "fontSize": 11, "color": "black", "baseline": "middle"}, "encoding": {"text": {"field": "label"}}},
          {"data": {"values": [{"t": 2.4, "v": 1.481, "label": "or"}]}, "mark": {"type": "text", "fontWeight": "bold", "fontSize": 10, "color": "black", "baseline": "middle"}, "encoding": {"text": {"field": "label"}}},
          {"data": {"values": [{"t": 2.4, "v": 1.56, "label": "DHQ"}]}, "mark": {"type": "text", "fontWeight": "bold", "fontSize": 11, "color": "#7d2fc0", "baseline": "middle"}, "encoding": {"text": {"field": "label"}}},
          {"data": {"values": [{"t": 2.4, "v": 1.35, "label": "HHQ"}]}, "mark": {"type": "text", "fontWeight": "bold", "fontSize": 11, "color": "#1f5ea8", "baseline": "middle"}, "encoding": {"text": {"field": "label"}}},
          {"data": {"values": [{"t": 0.6, "v": 4.0, "label": "H292"}]}, "mark": {"type": "text", "fontStyle": "italic", "fontSize": 11, "color": "#333", "align": "left", "baseline": "middle"}, "encoding": {"text": {"field": "label"}}}
        ]
      },
      {
        "width": 56, "height": 120,
        "encoding": {
          "x": {"field": "i", "type": "quantitative", "scale": {"domain": [0.35, 2.5], "nice": false, "zero": false}, "axis": {"values": [1, 2], "labelExpr": "['', 'HHQ', 'DHQ'][datum.value]", "labelAngle": -45, "title": null, "labelFontSize": 11}},
          "y": {"field": "v", "type": "quantitative", "scale": {"domain": [-0.15, 0.06], "nice": false, "zero": false}, "axis": {"values": [0.05, 0, -0.05, -0.1, -0.15], "format": ".2f", "title": "ΔFRET ratio after 3 min", "titleFontSize": 11}}
        },
        "layer": [
          {"data": {"values": [{"i": 1, "v": -0.089, "e": 0.013, "g": "HHQ"}, {"i": 2, "v": 0.02, "e": 0.02, "g": "DHQ"}]}, "layer": [
            {"mark": {"type": "bar", "size": 17, "strokeWidth": 1.5}, "encoding": {
              "fill": {"field": "g", "type": "nominal", "scale": {"domain": ["HHQ", "DHQ"], "range": ["#a044f0", "#1e9cf0"]}, "legend": null},
              "stroke": {"field": "g", "type": "nominal", "scale": {"domain": ["HHQ", "DHQ"], "range": ["#6a1fb0", "#0d5fa8"]}, "legend": null}}},
            {"mark": {"type": "errorbar", "ticks": {"size": 9}, "thickness": 1.5}, "encoding": {"yError": {"field": "e"}, "color": {"field": "g", "type": "nominal", "scale": {"domain": ["HHQ", "DHQ"], "range": ["#6a1fb0", "#0d5fa8"]}, "legend": null}}}
          ]},
          {"data": {"values": [{"i": 0.35, "i2": 2.5, "v": 0}]}, "mark": {"type": "rule", "color": "black", "strokeWidth": 1.5}, "encoding": {"x2": {"field": "i2"}}},
          {"data": {"values": [{"i": 0.7, "i2": 2.39, "v": 0.058}]}, "mark": {"type": "rule", "color": "black", "strokeWidth": 1}, "encoding": {"x2": {"field": "i2"}}},
          {"data": {"values": [{"i": 0.7, "v": 0.051, "v2": 0.058}, {"i": 2.39, "v": 0.051, "v2": 0.058}]}, "mark": {"type": "rule", "color": "black", "strokeWidth": 1}, "encoding": {"y2": {"field": "v2"}}},
          {"data": {"values": [{"i": 1.54, "v": 0.068, "label": "**"}]}, "mark": {"type": "text", "fontSize": 16, "fontWeight": "bold", "baseline": "middle"}, "encoding": {"text": {"field": "label"}}}
        ]
      }
      ]
    },
    {
      "title": {"text": "e", "orient": "left", "anchor": "end", "angle": 0, "align": "right", "baseline": "top", "fontSize": 26, "fontWeight": "bold", "font": "Liberation Sans", "color": "black", "offset": 4, "dy": -22},
      "spacing": 0,
      "hconcat": [
      {
        "width": 137, "height": 120,
        "encoding": {
          "x": {"field": "t", "type": "quantitative", "scale": {"domain": [0, 13.05], "nice": false, "zero": false}, "axis": null},
          "y": {"field": "v", "type": "quantitative", "scale": {"domain": [0.7, 3.1], "nice": false, "zero": false}, "axis": {"values": [1, 2, 3], "format": "d", "domain": false, "title": ["Normalized Epac-Sᴴ¹⁸⁷", "CFP/FRET em. ratio"]}}
        },
        "layer": [
          {"data": {"values": [{"t": 0, "v": 0.7, "v2": 3.0}]}, "mark": {"type": "rule", "color": "black", "strokeWidth": 1.5}, "encoding": {"y2": {"field": "v2"}}},
          {"data": {"name": "e1"}, "mark": {"type": "errorband", "color": "#f47c7c", "opacity": 0.85}, "encoding": {"yError": {"field": "e"}}},
          {"data": {"name": "e1"}, "mark": {"type": "line", "color": "#b30000", "strokeWidth": 2.5, "point": {"filled": true, "size": 14, "color": "#b30000"}}},
          {"data": {"values": [{"t": 9.05, "t2": 11.05, "v": 0.84}]}, "mark": {"type": "rule", "color": "black", "strokeWidth": 2}, "encoding": {"x2": {"field": "t2"}}},
          {"data": {"values": [{"t": 1.5, "v": 1.2, "v2": 1.48}, {"t": 7.25, "v": 2.12, "v2": 2.38}]}, "layer": [
            {"mark": {"type": "rule", "strokeWidth": 2, "color": "black"}, "encoding": {"y2": {"field": "v2"}}},
            {"mark": {"type": "point", "shape": "triangle-down", "filled": true, "size": 40, "color": "black", "opacity": 1}}
          ]},
          {"data": {"values": [{"t": 1.9, "v": 1.62, "label": "PQS"}, {"t": 6.7, "v": 2.52, "label": "forskolin"}, {"t": 10.05, "v": 1.02, "label": "2 min"}]}, "mark": {"type": "text", "fontWeight": "bold", "fontSize": 11, "color": "black", "baseline": "middle"}, "encoding": {"text": {"field": "label"}}},
          {"data": {"values": [{"t": 0.6, "v": 3.02, "label": "BEAS-2B"}]}, "mark": {"type": "text", "fontStyle": "italic", "fontSize": 11, "color": "#333", "align": "left", "baseline": "middle"}, "encoding": {"text": {"field": "label"}}}
        ]
      },
      {
        "width": 134, "height": 120,
        "encoding": {
          "x": {"field": "t", "type": "quantitative", "scale": {"domain": [0, 13.4], "nice": false, "zero": false}, "axis": null},
          "y": {"field": "v", "type": "quantitative", "scale": {"domain": [0.7, 3.1], "nice": false, "zero": false}, "axis": {"values": [1, 2, 3], "format": "d", "domain": false, "title": null}}
        },
        "layer": [
          {"data": {"values": [{"t": 0, "v": 0.7, "v2": 3.0}]}, "mark": {"type": "rule", "color": "black", "strokeWidth": 1.5}, "encoding": {"y2": {"field": "v2"}}},
          {"data": {"name": "e2"}, "mark": {"type": "errorband", "color": "#f47c7c", "opacity": 0.85}, "encoding": {"yError": {"field": "e"}}},
          {"data": {"name": "e2"}, "mark": {"type": "line", "color": "#b30000", "strokeWidth": 2.5, "point": {"filled": true, "size": 14, "color": "#b30000"}}},
          {"data": {"values": [{"t": 10.5, "t2": 12.5, "v": 0.84}]}, "mark": {"type": "rule", "color": "black", "strokeWidth": 2}, "encoding": {"x2": {"field": "t2"}}},
          {"data": {"values": [{"t": 1.1, "v": 1.22, "v2": 1.54}, {"t": 5.7, "v": 1.4, "v2": 1.72}, {"t": 9.1, "v": 2.38, "v2": 2.72}]}, "layer": [
            {"mark": {"type": "rule", "strokeWidth": 2, "color": "black"}, "encoding": {"y2": {"field": "v2"}}},
            {"mark": {"type": "point", "shape": "triangle-down", "filled": true, "size": 40, "color": "black", "opacity": 1}}
          ]},
          {"data": {"values": [{"t": 2.2, "v": 1.64, "label": "IBMX"}, {"t": 5.6, "v": 1.88, "label": "PQS"}, {"t": 8.8, "v": 2.82, "label": "FSK"}, {"t": 11.5, "v": 1.02, "label": "2 min"}]}, "mark": {"type": "text", "fontWeight": "bold", "fontSize": 11, "color": "black", "baseline": "middle"}, "encoding": {"text": {"field": "label"}}}
        ]
      }
      ]
    }
    ]
  }
  ]
}
]
}
